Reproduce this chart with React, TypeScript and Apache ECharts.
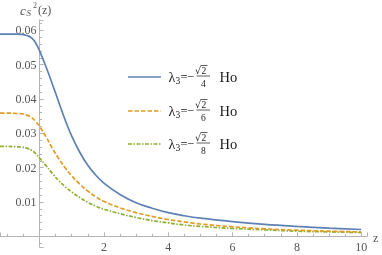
import React, { useEffect, useRef } from "react";
import * as echarts from "echarts";

const zValues = [-1.23, -1, -0.75, -0.55, -0.4, -0.25, -0.12, 0, 0.2, 0.4, 0.6, 0.8, 1, 1.25, 1.5, 1.75, 2, 2.5, 3, 3.5, 4, 4.5, 5, 6, 7, 8, 9, 10];
const blueValues = [0.0589, 0.0589, 0.0589, 0.0588, 0.0585, 0.0578, 0.0563, 0.054, 0.0494, 0.0443, 0.039, 0.0338, 0.0292, 0.0245, 0.0207, 0.0178, 0.0155, 0.0122, 0.0098, 0.0082, 0.0069, 0.006, 0.0053, 0.0043, 0.0035, 0.0029, 0.0024, 0.002];
const orangeValues = [0.0359, 0.0359, 0.0358, 0.0357, 0.0353, 0.0346, 0.0335, 0.032, 0.029, 0.0256, 0.0226, 0.0199, 0.0176, 0.0152, 0.0132, 0.0115, 0.0102, 0.0083, 0.0069, 0.0058, 0.0049, 0.0042, 0.0036, 0.0028, 0.0022, 0.0018, 0.0015, 0.0013];
const greenValues = [0.0262, 0.0262, 0.0261, 0.026, 0.0257, 0.0251, 0.0241, 0.0228, 0.0206, 0.0183, 0.0162, 0.0144, 0.0129, 0.0113, 0.0099, 0.0088, 0.0079, 0.0066, 0.0055, 0.0046, 0.0039, 0.0033, 0.0029, 0.0023, 0.0019, 0.0015, 0.0013, 0.0011];
const legendDenominators = ["4", "6", "8"];
const colors = ["#5E81B5", "#E19C24", "#8FB032"];
const dashes: any[] = ["solid", [4.5, 2], [4, 1.5, 1.5, 1.5]];

const SERIF = "'Liberation Serif', 'DejaVu Serif', serif";

const X_MIN = -1.23;
const X_MAX = 10.18;
const Y_MIN = -0.0031;
const Y_MAX = 0.063;
const W = 382;
const H = 255;
const GRID = { left: 0, right: 15, top: 20, bottom: 8 };

function legendRow(cy: number, color: string, dash: any, denom: string) {
  const txt = "#1a1a1a";
  return [
    {
      type: "line",
      shape: { x1: 128, y1: cy, x2: 161, y2: cy },
      style: { stroke: color, lineWidth: 1.7, lineDash: dash === "solid" ? null : dash },
    },
    { type: "text", x: 168.5, y: cy, style: { text: "λ", fontSize: 14, fontFamily: SERIF, fill: txt, verticalAlign: "middle", align: "left" } },
    { type: "text", x: 175.5, y: cy + 4, style: { text: "3", fontSize: 9.5, fontFamily: SERIF, fill: txt, verticalAlign: "middle", align: "left" } },
    { type: "text", x: 180.5, y: cy, style: { text: "=", fontSize: 12.5, fontFamily: SERIF, fill: txt, verticalAlign: "middle", align: "left" } },
    { type: "text", x: 187, y: cy - 0.5, style: { text: "−", fontSize: 12.5, fontFamily: SERIF, fill: txt, verticalAlign: "middle", align: "left" } },
    { type: "text", x: 195, y: cy - 6.5, style: { text: "√", fontSize: 9.5, fontFamily: "'DejaVu Sans', sans-serif", fill: txt, verticalAlign: "middle", align: "left" } },
    { type: "text", x: 201.5, y: cy - 6, style: { text: "2", fontSize: 9.5, fontFamily: SERIF, fill: txt, verticalAlign: "middle", align: "left" } },
    { type: "line", shape: { x1: 200.5, y1: cy - 11.5, x2: 207.5, y2: cy - 11.5 }, style: { stroke: txt, lineWidth: 0.7 } },
    { type: "line", shape: { x1: 196.5, y1: cy - 1, x2: 210, y2: cy - 1 }, style: { stroke: txt, lineWidth: 0.7 } },
    { type: "text", x: 203.3, y: cy + 7, style: { text: denom, fontSize: 9.5, fontFamily: SERIF, fill: txt, verticalAlign: "middle", align: "center" } },
    { type: "text", x: 219.5, y: cy, style: { text: "Ho", fontSize: 14.5, fontFamily: SERIF, fill: txt, verticalAlign: "middle", align: "left" } },
  ];
}

export default function App() {
  const ref = useRef<HTMLDivElement>(null);
  useEffect(() => {
    if (!ref.current) return;
    const chart = echarts.init(ref.current, null, { renderer: "svg" });
    const mk = (vals: number[]) => zValues.map((z, i) => [z, vals[i]]);
    const seriesVals = [blueValues, orangeValues, greenValues];
    const axisGray = "#b4b4b4";
    const labelGray = "#555";
    const rows: any[] = [];
    [77, 111, 144].forEach((cy, i) => rows.push(...legendRow(cy, colors[i], dashes[i], legendDenominators[i])));
    const gw = W - GRID.left - GRID.right;
    const gh = H - GRID.top - GRID.bottom;
    // move axes inward to cross at (0,0)
    const yAxisOffset = -((0 - X_MIN) / (X_MAX - X_MIN)) * gw;
    const xAxisOffset = -((0 - Y_MIN) / (Y_MAX - Y_MIN)) * gh;
    chart.setOption({
      animation: false,
      grid: { ...GRID, containLabel: false, outerBoundsMode: "none" },
      xAxis: {
        type: "value",
        min: X_MIN,
        max: X_MAX,
        splitNumber: 6,
        position: "bottom",
        offset: xAxisOffset,
        axisLine: { onZero: false, lineStyle: { color: axisGray, width: 1 } },
        axisTick: { inside: true, length: 4, lineStyle: { color: axisGray } },
        minorTick: { show: true, splitNumber: 4, length: 2.5, lineStyle: { color: axisGray } },
        splitLine: { show: false },
        axisLabel: {
          color: labelGray,
          fontFamily: SERIF,
          fontSize: 12,
          margin: 5,
          showMinLabel: false,
          showMaxLabel: false,
          formatter: (v: number) => (v > 0.5 && Math.abs(v / 2 - Math.round(v / 2)) < 1e-6 ? String(Math.round(v)) : ""),
        },
      },
      yAxis: {
        type: "value",
        min: Y_MIN,
        max: Y_MAX,
        splitNumber: 6,
        position: "left",
        offset: yAxisOffset,
        axisLine: { onZero: false, lineStyle: { color: axisGray, width: 1 } },
        axisTick: { inside: true, length: 4, lineStyle: { color: axisGray } },
        minorTick: { show: true, splitNumber: 5, length: 2.5, lineStyle: { color: axisGray } },
        splitLine: { show: false },
        axisLabel: {
          color: labelGray,
          fontFamily: SERIF,
          fontSize: 12,
          margin: 3,
          showMinLabel: false,
          showMaxLabel: false,
          formatter: (v: number) => {
            const k = Math.round(v * 100);
            if (k < 1 || Math.abs(v * 100 - k) > 1e-6) return "";
            return (k / 100).toFixed(2);
          },
        },
      },
      series: seriesVals.map((vals, i) => ({
        type: "line",
        data: mk(vals),
        showSymbol: false,
        smooth: 0.4,
        lineStyle: { color: colors[i], width: 1.7, type: dashes[i] },
        itemStyle: { color: colors[i] },
        z: 3 - i,
      })),
      graphic: [
        { type: "text", x: 20, y: 10, style: { text: "c", fontSize: 13, fontStyle: "italic", fontFamily: SERIF, fill: labelGray, verticalAlign: "middle" } },
        { type: "text", x: 26.5, y: 13, style: { text: "S", fontSize: 9, fontStyle: "italic", fontFamily: SERIF, fill: labelGray, verticalAlign: "middle" } },
        { type: "text", x: 33, y: 5.5, style: { text: "2", fontSize: 8, fontFamily: SERIF, fill: labelGray, verticalAlign: "middle" } },
        { type: "text", x: 38, y: 10, style: { text: "(z)", fontSize: 12, fontFamily: SERIF, fill: labelGray, verticalAlign: "middle" } },
        { type: "text", x: 373, y: 238, style: { text: "z", fontSize: 12, fontFamily: SERIF, fill: labelGray, verticalAlign: "middle" } },
        ...rows,
      ],
    });
    return () => chart.dispose();
  }, []);
  return <div ref={ref} style={{ position: "fixed", left: 0, top: 0, width: W, height: H }} />;
}
